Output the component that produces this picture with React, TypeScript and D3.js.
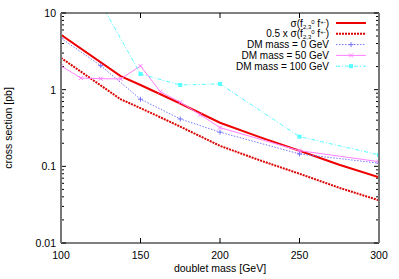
import React from 'react';
import * as d3 from 'd3';

// doublet mass [GeV] vs cross section [pb]
const sigmaMass = [100, 137.5, 150, 175, 200, 225, 250, 275, 300];
const sigmaVals = [5.2, 1.5, 1.15, 0.66, 0.37, 0.24, 0.16, 0.105, 0.072];
const halfSigmaVals = [2.6, 0.75, 0.575, 0.33, 0.185, 0.12, 0.08, 0.0525, 0.036];

const dm0Mass = [100, 125, 150, 175, 200, 250, 300];
const dm0Vals = [4.68, 2.06, 0.75, 0.415, 0.279, 0.145, 0.11];

const dm50Mass = [100, 112.5, 125, 137.5, 150, 162.5, 175, 187.5, 200, 250, 300];
const dm50Vals = [2.04, 1.42, 1.39, 1.38, 2.04, 0.94, 0.686, 0.472, 0.32, 0.16, 0.115];

const dm100Mass = [125, 150, 175, 200, 250, 300];
const dm100Vals = [13.5, 1.6, 1.15, 1.19, 0.244, 0.141];

const xTicks = [100, 150, 200, 250, 300];
const yTicks = [0.01, 0.1, 1, 10];
const yTickLabels = ['0.01', '0.1', '1', '10'];

type Pt = { x: number; y: number };
const zip = (xs: number[], ys: number[]): Pt[] => xs.map((x, i) => ({ x, y: ys[i] }));

const App: React.FC = () => {
  const width = 399;
  const height = 279;
  const margin = { top: 13, right: 20, bottom: 36, left: 61 };
  const x = d3.scaleLinear().domain([100, 300]).range([margin.left, width - margin.right]);
  const y = d3.scaleLog().domain([0.01, 10]).range([height - margin.bottom, margin.top]);
  const line = d3.line<Pt>().x(d => x(d.x)).y(d => y(d.y));

  const minor: number[] = [];
  [0.01, 0.1, 1].forEach(dec => {
    for (let k = 2; k <= 9; k++) minor.push(dec * k);
  });

  const font = 'Liberation Sans, Arial, sans-serif';
  const x0 = margin.left, x1 = width - margin.right;
  const y0 = height - margin.bottom, y1 = margin.top;

  const series = [
    { data: zip(sigmaMass, sigmaVals), color: '#ee0000', w: 2, dash: undefined, marker: 'none' },
    { data: zip(sigmaMass, halfSigmaVals), color: '#dd0000', w: 2, dash: '2,1', marker: 'none' },
    { data: zip(dm0Mass, dm0Vals), color: '#7777ff', w: 1, dash: '1.5,1.5', marker: 'plus' },
    { data: zip(dm50Mass, dm50Vals), color: '#ff80ff', w: 1, dash: undefined, marker: 'cross' },
    { data: zip(dm100Mass, dm100Vals), color: '#55ffff', w: 1, dash: '4,2,1,2', marker: 'square' },
  ];

  const drawMarker = (kind: string, cx: number, cy: number, color: string, key: string) => {
    if (kind === 'plus')
      return (
        <path key={key} d={`M${cx - 2.5},${cy}H${cx + 2.5}M${cx},${cy - 2.5}V${cy + 2.5}`} stroke={color} strokeWidth={1} />
      );
    if (kind === 'cross')
      return (
        <path key={key} d={`M${cx - 2},${cy - 2}L${cx + 2},${cy + 2}M${cx - 2},${cy + 2}L${cx + 2},${cy - 2}`} stroke={color} strokeWidth={1} />
      );
    if (kind === 'square')
      return <rect key={key} x={cx - 1.5} y={cy - 1.5} width={3} height={3} fill={color} stroke={color} />;
    return null;
  };

  const legendRows = [0, 1, 2, 3, 4].map(i => 23 + i * 10.8);
  const legendTextX = 329;
  const legendLineX = [336, 366];

  const formula = (prefix: string) => (
    <>
      {prefix}σ(f<tspan dy={2} fontSize={6}>2,3</tspan><tspan dy={-5} fontSize={6}>0</tspan>
      <tspan dy={3}> f</tspan><tspan dy={-3} fontSize={6}>+-</tspan><tspan dy={3}>)</tspan>
    </>
  );

  return (
    <svg width={width} height={height} style={{ position: 'absolute', left: 0, top: 0, background: '#fff' }} fontFamily={font}>
      <defs>
        <clipPath id="plotclip">
          <rect x={x0} y={y1} width={x1 - x0} height={y0 - y1} />
        </clipPath>
      </defs>

      {/* ticks */}
      {xTicks.map(t => (
        <g key={`xt${t}`}>
          <line x1={x(t)} x2={x(t)} y1={y0} y2={y0 - 5} stroke="#000" />
          <line x1={x(t)} x2={x(t)} y1={y1} y2={y1 + 5} stroke="#000" />
          <text x={x(t)} y={y0 + 16} fontSize={10.5} textAnchor="middle" fill="#000">{t}</text>
        </g>
      ))}
      {yTicks.map((t, i) => (
        <g key={`yt${t}`}>
          <line x1={x0} x2={x0 + 5} y1={y(t)} y2={y(t)} stroke="#000" />
          <line x1={x1} x2={x1 - 5} y1={y(t)} y2={y(t)} stroke="#000" />
          <text x={x0 - 5} y={y(t) + 4} fontSize={10.5} textAnchor="end" fill="#000">{yTickLabels[i]}</text>
        </g>
      ))}
      {minor.map(t => (
        <g key={`ym${t}`}>
          <line x1={x0} x2={x0 + 3} y1={y(t)} y2={y(t)} stroke="#000" />
          <line x1={x1} x2={x1 - 3} y1={y(t)} y2={y(t)} stroke="#000" />
        </g>
      ))}

      {/* series */}
      <g clipPath="url(#plotclip)">
        {series.map((s, i) => (
          <g key={`s${i}`}>
            <path d={line(s.data) || ''} fill="none" stroke={s.color} strokeWidth={s.w} strokeDasharray={s.dash} />
            {s.data
              .filter(d => d.y <= 10)
              .map((d, j) => drawMarker(s.marker, x(d.x), y(d.y), s.color, `m${i}-${j}`))}
          </g>
        ))}
      </g>

      {/* frame */}
      <line x1={x0} x2={x1} y1={y1} y2={y1} stroke="#000" />
      <line x1={x0} x2={x1} y1={y0} y2={y0} stroke="#000" />
      <line x1={x0} x2={x0} y1={y1} y2={y0} stroke="#777" strokeWidth={2} />
      <line x1={x1} x2={x1} y1={y1} y2={y0} stroke="#777" strokeWidth={2} />

      {/* legend */}
      <g fontSize={10} fill="#000">
        <text x={legendTextX} y={legendRows[0] + 3.5} textAnchor="end">{formula('')}</text>
        <text x={legendTextX} y={legendRows[1] + 3.5} textAnchor="end">{formula('0.5 x ')}</text>
        <text x={legendTextX} y={legendRows[2] + 3.5} textAnchor="end">DM mass = 0 GeV</text>
        <text x={legendTextX} y={legendRows[3] + 3.5} textAnchor="end">DM mass = 50 GeV</text>
        <text x={legendTextX} y={legendRows[4] + 3.5} textAnchor="end">DM mass = 100 GeV</text>
      </g>
      {series.map((s, i) => (
        <g key={`lg${i}`}>
          <line x1={legendLineX[0]} x2={legendLineX[1]} y1={legendRows[i]} y2={legendRows[i]} stroke={s.color} strokeWidth={s.w} strokeDasharray={s.dash} />
          {drawMarker(s.marker, (legendLineX[0] + legendLineX[1]) / 2, legendRows[i], s.color, `lm${i}`)}
        </g>
      ))}

      {/* axis labels */}
      <text x={(x0 + x1) / 2} y={height - 7} fontSize={10.5} textAnchor="middle" fill="#000">doublet mass [GeV]</text>
      <text transform={`translate(12,${(y0 + y1) / 2}) rotate(-90)`} fontSize={10.5} textAnchor="middle" fill="#000">cross section [pb]</text>
    </svg>
  );
};

export default App;
